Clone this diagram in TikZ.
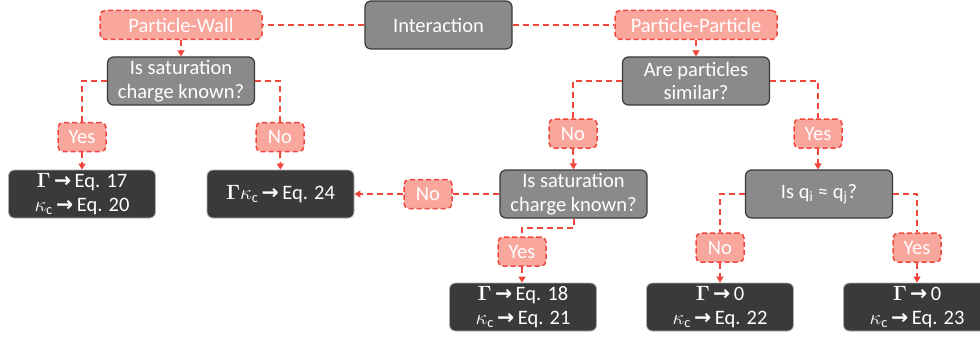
\documentclass[tikz,border=0pt]{standalone}
\usepackage{amsmath}
\usepackage{amssymb}
\usepackage{fontspec}
\setmainfont{Carlito}
\newfontfamily\arrowfont{DejaVu Sans}
\usetikzlibrary{shapes,arrows.meta,positioning,calc}
\definecolor{flowred}{RGB}{240,70,60}
\definecolor{flowpink}{RGB}{249,166,157}
\definecolor{flowgrey}{RGB}{138,138,138}
\definecolor{flowdark}{RGB}{58,58,58}
\newcommand{\tto}{\,{\arrowfont\bfseries →}\,}
\newcommand{\GG}{$\boldsymbol{\Gamma}$}
\newcommand{\kc}{$\kappa_{\mathrm{c}}$}

\tikzset{
    decision/.style={draw=flowdark, fill=flowgrey, line width=1.2pt, rounded corners=6pt,
        text=white, align=center, minimum width=147pt, minimum height=48pt, inner sep=0pt},
    result/.style={draw=flowgrey!70, fill=flowdark, line width=0.8pt, rounded corners=6pt,
        text=white, align=center, minimum width=147pt, minimum height=48pt, inner sep=0pt},
    answer/.style={draw=flowred, fill=flowpink, dashed, dash pattern=on 5pt off 3pt,
        line width=1.5pt, rounded corners=5pt, text=white, minimum width=48pt,
        minimum height=29pt, inner sep=0pt},
    link/.style={draw=flowred, line width=2pt, dash pattern=on 6pt off 4pt},
    linkarrow/.style={link, -{Triangle[width=7pt,length=6pt]}}
}

\begin{document}
\begin{tikzpicture}[x=1pt, y=-1pt, font=\fontsize{20.5}{23.5}\selectfont]
    \useasboundingbox (0,0) rectangle (980,337);

    % Top row
    \node[decision] (inter) at (438.5,25) {Interaction};
    \node[answer, minimum width=162pt] (pw) at (181,25) {Particle-Wall};
    \node[answer, minimum width=162pt] (pp) at (696,25) {Particle-Particle};

    % Particle-Wall branch
    \node[decision] (satL) at (181,81) {Is saturation\\charge known?};
    \node[answer] (yesL) at (82,137) {Yes};
    \node[answer] (noL) at (280,137) {No};
    \node[result] (res17) at (82,194) {\GG\tto Eq. 17\\\kc\tto Eq. 20};
    \node[result] (res24) at (280.5,194) {\GG\kc\tto Eq. 24};

    % Particle-Particle branch
    \node[decision] (sim) at (696,81) {Are particles\\similar?};
    \node[answer] (noM) at (573,133.5) {No};
    \node[answer] (yesR) at (818,133.5) {Yes};
    \node[decision] (satM) at (573.5,194) {Is saturation\\charge known?};
    \node[decision] (qq) at (819,194) {Is q\textsubscript{i} ≈ q\textsubscript{j}?};
    \node[answer] (noS) at (428,194) {No};
    \node[answer] (yesM) at (522,251.5) {Yes};
    \node[answer] (noQ) at (720,247.5) {No};
    \node[answer] (yesQ) at (917,247.5) {Yes};
    \node[result] (res18) at (523,307) {\GG\tto Eq. 18\\\kc\tto Eq. 21};
    \node[result] (res22) at (720,307) {\GG\tto 0\\\kc\tto Eq. 22};
    \node[result] (res23) at (917,307) {\GG\tto 0\\\kc\tto Eq. 23};

    % Connectors
    \draw[link] (inter.west) -- (pw.east);
    \draw[link] (inter.east) -- (pp.west);
    \draw[linkarrow] (pw.south) -- (satL.north);
    \draw[link] (satL.west) -| (yesL.north);
    \draw[link] (satL.east) -| (noL.north);
    \draw[linkarrow] (yesL.south) -- (res17.north);
    \draw[linkarrow] (noL.south) -- (res24.north);
    \draw[linkarrow] (pp.south) -- (sim.north);
    \draw[link] (sim.west) -| (noM.north);
    \draw[link] (sim.east) -| (yesR.north);
    \draw[linkarrow] (noM.south) -- (satM.north);
    \draw[linkarrow] (yesR.south) -- (qq.north -| yesR.south);
    \draw[link] (satM.west) -- (noS.east);
    \draw[linkarrow] (noS.west) -- (res24.east);
    \draw[link] (satM.south) -- ++(0,9) -| (yesM.north);
    \draw[linkarrow] (yesM.south) -- (res18.north -| yesM.south);
    \draw[link] (qq.west) -| (noQ.north);
    \draw[link] (qq.east) -| (yesQ.north);
    \draw[linkarrow] (noQ.south) -- (res22.north);
    \draw[linkarrow] (yesQ.south) -- (res23.north);
\end{tikzpicture}
\end{document}
